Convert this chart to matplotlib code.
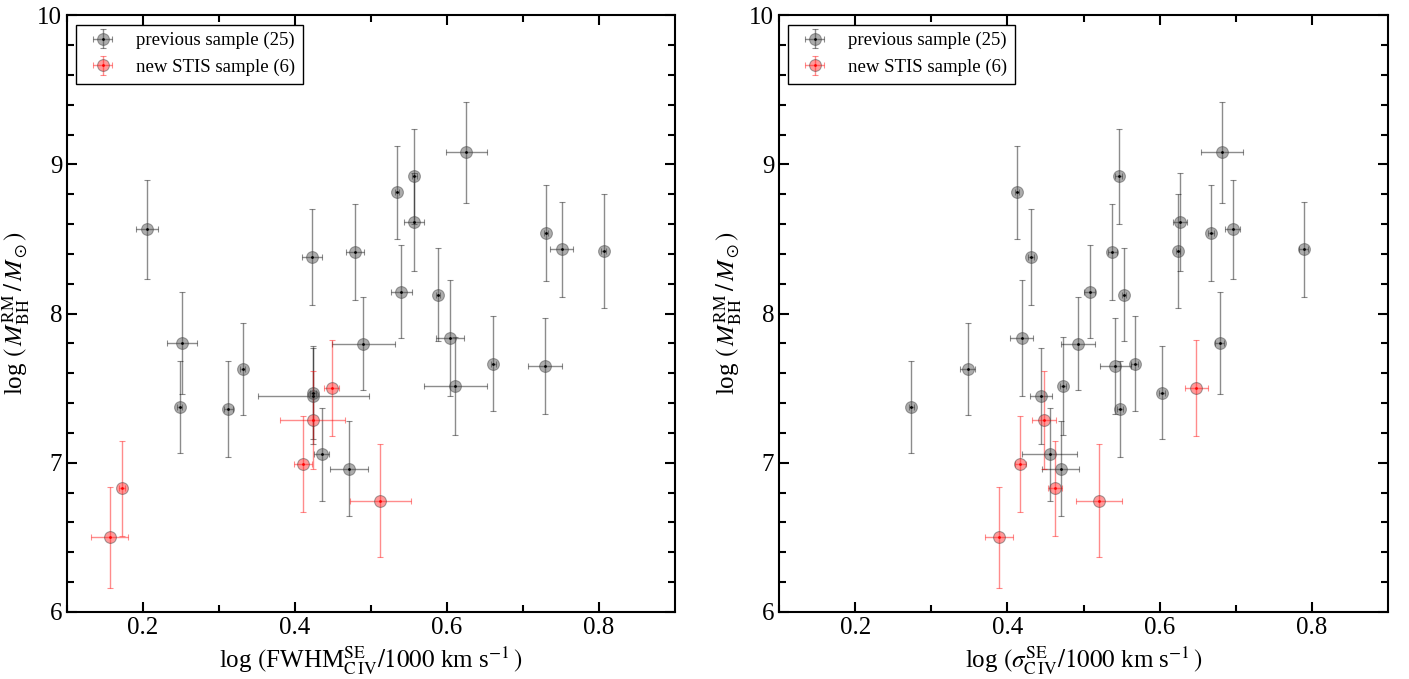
import matplotlib
matplotlib.use('Agg')
import matplotlib.pyplot as plt
import numpy as np

plt.rcParams['font.family'] = ['Liberation Serif', 'DejaVu Serif']
plt.rcParams['mathtext.fontset'] = 'stix'

# log M_BH(RM) for the previous sample (25) and its error
prev_mbh = [8.564, 8.379, 8.412, 8.812, 8.919, 8.613, 9.081, 8.147, 8.127, 8.540,
            8.430, 8.419, 7.804, 7.375, 7.359, 7.629, 7.470, 7.446, 7.799, 7.056,
            6.960, 7.837, 7.513, 7.665, 7.650]
prev_mbh_err = [0.33, 0.32, 0.32, 0.31, 0.32, 0.33, 0.34, 0.31, 0.31, 0.32,
                0.32, 0.38, 0.34, 0.31, 0.32, 0.31, 0.31, 0.32, 0.31, 0.31,
                0.32, 0.39, 0.33, 0.32, 0.32]
# log FWHM(CIV)
prev_fwhm = [0.205, 0.422, 0.479, 0.534, 0.557, 0.557, 0.625, 0.540, 0.588, 0.730,
             0.751, 0.806, 0.251, 0.248, 0.312, 0.331, 0.424, 0.424, 0.490, 0.435,
             0.471, 0.604, 0.611, 0.661, 0.729]
prev_fwhm_err = [0.014, 0.013, 0.012, 0.003, 0.003, 0.013, 0.027, 0.014, 0.003, 0.003,
                 0.015, 0.003, 0.020, 0.003, 0.006, 0.003, 0.004, 0.073, 0.041, 0.010,
                 0.025, 0.018, 0.041, 0.003, 0.022]
# log sigma(CIV)
prev_sig = [0.696, 0.431, 0.538, 0.4125, 0.546, 0.627, 0.682, 0.508, 0.553, 0.668,
            0.789, 0.624, 0.679, 0.274, 0.548, 0.348, 0.603, 0.444, 0.493, 0.4555,
            0.470, 0.419, 0.473, 0.567, 0.542]
prev_sig_err = [0.010, 0.004, 0.006, 0.003, 0.004, 0.009, 0.028, 0.007, 0.003, 0.004,
                0.006, 0.003, 0.006, 0.003, 0.004, 0.010, 0.004, 0.014, 0.022, 0.036,
                0.024, 0.015, 0.004, 0.004, 0.021]

# new STIS sample (6)
new_mbh = [6.500, 6.828, 6.993, 7.286, 7.502, 6.746]
new_mbh_err = [0.34, 0.32, 0.32, 0.33, 0.32, 0.38]
new_fwhm = [0.156, 0.172, 0.410, 0.423, 0.448, 0.512]
new_fwhm_err = [0.024, 0.004, 0.012, 0.043, 0.010, 0.040]
new_sig = [0.389, 0.4625, 0.417, 0.448, 0.648, 0.5205]
new_sig_err = [0.019, 0.009, 0.007, 0.016, 0.015, 0.030]

xlabels = [r'log $($FWHM$^{\rm SE}_{\rm C\,IV}/1000$ km s$^{-1}\,)$',
           r'log $(\sigma^{\rm SE}_{\rm C\,IV}/1000$ km s$^{-1}\,)$']
ylabel = r'log $(\,M^{\rm RM}_{\rm BH}\,/\,M_\odot)$'


def draw_set(ax, x, xerr, y, yerr, col, ecol):
    eb = ax.errorbar(x, y, xerr=xerr, yerr=yerr, fmt='o', ms=8.5, mfc=col, mec='#404040',
                     mew=0.8, ecolor=ecol, elinewidth=1.0, capsize=2.5, capthick=1.0,
                     alpha=0.45, zorder=2)
    dot, = ax.plot(x, y, '.', color=ecol, ms=2, zorder=3)
    return (eb, dot)


fig = plt.figure(figsize=(14.09, 6.79), dpi=100)
axes = [fig.add_axes([0.0476, 0.0987, 0.4315, 0.879]),
        fig.add_axes([0.5529, 0.0987, 0.4322, 0.879])]

for i, ax in enumerate(axes):
    xs = prev_fwhm if i == 0 else prev_sig
    xe = prev_fwhm_err if i == 0 else prev_sig_err
    nx = new_fwhm if i == 0 else new_sig
    nxe = new_fwhm_err if i == 0 else new_sig_err
    h1 = draw_set(ax, xs, xe, prev_mbh, prev_mbh_err, '#4a4a4a', 'black')
    h2 = draw_set(ax, nx, nxe, new_mbh, new_mbh_err, '#ff2020', 'red')

    ax.set_xlim(0.1, 0.9)
    ax.set_ylim(6, 10)
    ax.set_xticks([0.2, 0.4, 0.6, 0.8])
    ax.set_xticks(np.arange(0.1, 0.9, 0.1), minor=True)
    ax.set_yticks([6, 7, 8, 9, 10])
    ax.set_yticks(np.arange(6, 10, 0.2), minor=True)
    ax.tick_params(which='both', direction='in', top=True, right=True, width=1.5,
                   labelsize=18)
    ax.tick_params(which='major', length=7)
    ax.tick_params(which='minor', length=5)
    for sp in ax.spines.values():
        sp.set_linewidth(1.5)
    ax.set_xlabel(xlabels[i], fontsize=18)
    ax.set_ylabel(ylabel, fontsize=18)
    leg = ax.legend([h1, h2], ['previous sample (25)', 'new STIS sample (6)'],
                    loc='upper left', fontsize=13.5, fancybox=False, framealpha=1,
                    edgecolor='black', handletextpad=0.8, borderpad=0.4)
    leg.get_frame().set_linewidth(1.0)

fig.savefig('out.png', dpi=100)
